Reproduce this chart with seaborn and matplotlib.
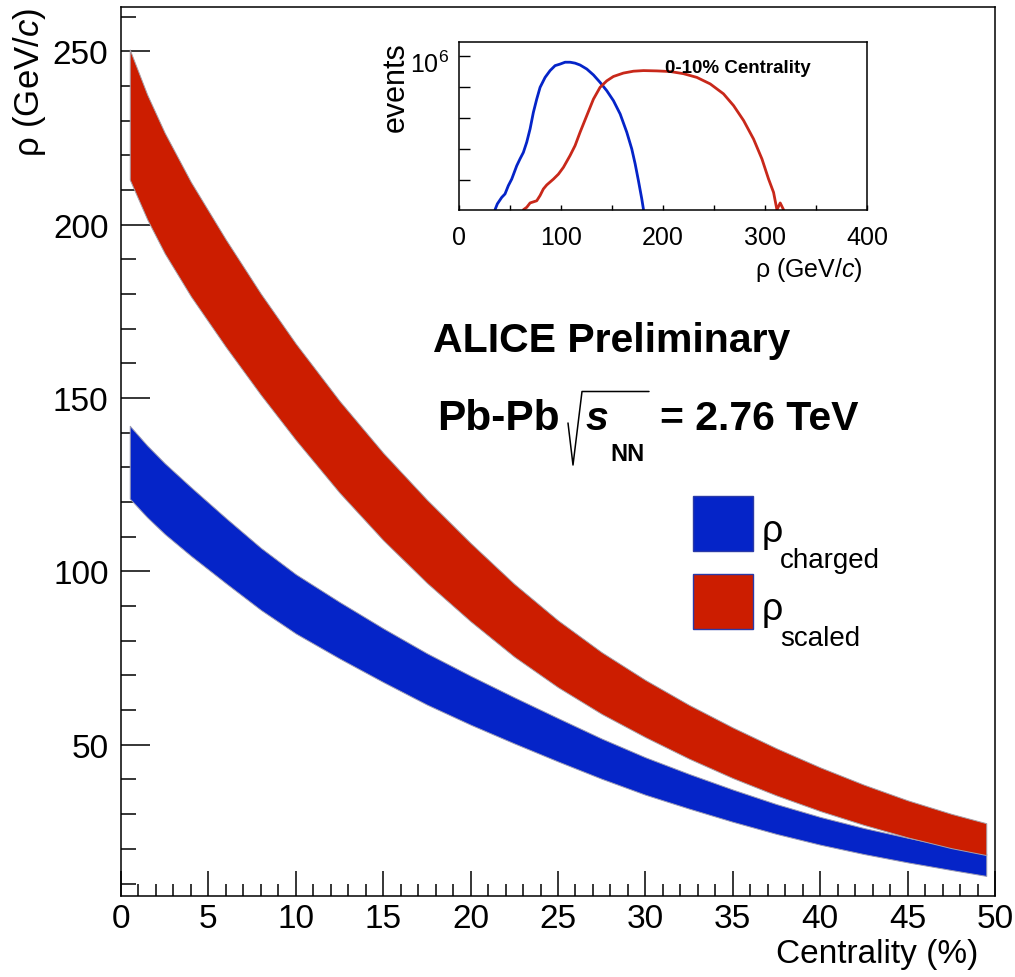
import numpy as np
import matplotlib
matplotlib.use("Agg")
import matplotlib.pyplot as plt
import seaborn as sns
from matplotlib.patches import Rectangle
from matplotlib.lines import Line2D
from matplotlib.transforms import ScaledTranslation
from matplotlib.ticker import MultipleLocator, FixedLocator, FixedFormatter, NullFormatter

# main panel: rho band vs centrality (lower / upper edge of each band)
centrality = [0.5, 1.5, 2.5, 4, 6, 8, 10, 12.5, 15, 17.5, 20, 22.5, 25,
              27.5, 30, 32.5, 35, 37.5, 40, 42.5, 45, 47.5, 49.5]
charged_low = [121, 115.6, 110.8, 104.5, 96.6, 88.9, 82.1, 74.9, 68.1, 61.6, 55.8, 50.4,
               45.2, 40.2, 35.6, 31.6, 27.8, 24.3, 21.2, 18.5, 16.1, 13.9, 12.2]
charged_high = [142, 136.3, 131.2, 124.3, 115.4, 106.8, 99.2, 91.2, 83.6, 76.4, 69.9, 63.7,
                57.7, 51.8, 46.4, 41.6, 37.1, 32.9, 29.2, 26.0, 23.2, 20.6, 18.6]
scaled_low = [213, 201.5, 191.7, 179.3, 164.7, 150.9, 137.9, 122.7, 109, 96.7, 85.6, 75.4,
              66.6, 58.9, 52.2, 46.0, 40.4, 35.4, 30.9, 26.9, 23.3, 20.2, 18.2]
scaled_high = [250.5, 237.5, 226.5, 212.3, 195.7, 180.1, 165.7, 149.2, 134.2, 120.7, 108.2,
               96.4, 85.9, 76.7, 68.7, 61.5, 55.0, 49.0, 43.5, 38.5, 34.0, 30.1, 27.4]

# inset: rho distributions for 0-10% centrality (log10 of events)
rho_charged = [35.3, 37.6, 41.9, 45.1, 48.4, 51.7, 56.6, 59.8, 63.1, 66.4, 69.7, 72.9,
               76.2, 79.5, 84.4, 89.3, 94.2, 99.1, 104.0, 108.9, 113.8, 118.7, 125.3,
               131.8, 138.3, 144.9, 151.4, 158.0, 164.5, 169.4, 172.7, 175.9, 179.2, 180.9]
logev_charged = [1.03, 1.22, 1.43, 1.54, 1.81, 2.02, 2.45, 2.67, 2.88, 3.21, 3.64, 4.17,
                 4.60, 4.98, 5.30, 5.52, 5.68, 5.73, 5.79, 5.79, 5.76, 5.70, 5.57,
                 5.38, 5.14, 4.87, 4.55, 4.12, 3.53, 2.99, 2.51, 1.97, 1.38, 1.03]
rho_scaled = [63.1, 66.4, 69.7, 76.2, 79.5, 82.7, 86.0, 92.6, 97.5, 102.4, 108.9, 113.8,
              118.7, 125.3, 131.8, 138.3, 144.9, 151.4, 161.2, 171.0, 180.9, 193.9,
              207.0, 220.1, 233.2, 246.3, 259.3, 269.2, 279.0, 288.8, 297.0, 303.5,
              308.4, 311.7, 314.9, 318.2]
logev_scaled = [1.03, 1.11, 1.25, 1.32, 1.49, 1.70, 1.83, 2.02, 2.18, 2.40, 2.78, 3.10,
                3.53, 4.07, 4.60, 4.98, 5.19, 5.33, 5.44, 5.50, 5.52, 5.51,
                5.49, 5.42, 5.30, 5.09, 4.77, 4.39, 3.91, 3.31, 2.67, 2.02,
                1.59, 1.03, 1.25, 1.03]

legend_labels = ['charged', 'scaled']

BLUE = '#0524c8'
RED = '#cc1d00'

sns.set_theme(style='white')
plt.rcParams['font.family'] = ['Liberation Sans', 'DejaVu Sans']
plt.rcParams['mathtext.fontset'] = 'custom'
plt.rcParams['mathtext.rm'] = 'Liberation Sans'
plt.rcParams['mathtext.it'] = 'Liberation Sans:italic'
plt.rcParams['axes.edgecolor'] = 'black'
plt.rcParams['text.color'] = 'black'
plt.rcParams['xtick.color'] = 'black'
plt.rcParams['ytick.color'] = 'black'

W, H = 1015, 978
fig = plt.figure(figsize=(W / 100, H / 100), dpi=100)


def fx(px):
    return px / W


def fy(py):
    return 1 - py / H


ax = fig.add_axes([fx(121), fy(897), 874 / W, 889.5 / H])
ax.fill_between(centrality, charged_low, charged_high, facecolor=BLUE,
                edgecolor='#9a9ab4', linewidth=0.7)
ax.fill_between(centrality, scaled_low, scaled_high, facecolor=RED,
                edgecolor='#a8a0a8', linewidth=0.7)
ax.set_xlim(0, 50)
ax.set_ylim(6.4, 262.9)
ax.xaxis.set_major_locator(MultipleLocator(5))
ax.xaxis.set_minor_locator(MultipleLocator(1))
ax.yaxis.set_major_locator(FixedLocator([50, 100, 150, 200, 250]))
ax.yaxis.set_minor_locator(MultipleLocator(10))
ax.tick_params(axis='x', which='major', direction='in', length=18, width=1.1,
               labelsize=24, pad=5, bottom=True, top=False)
ax.tick_params(axis='x', which='minor', direction='in', length=9, width=1.1,
               bottom=True, top=False)
ax.tick_params(axis='y', which='major', direction='in', length=21, width=1.1,
               labelsize=24, pad=9, left=True, right=False)
ax.tick_params(axis='y', which='minor', direction='in', length=11, width=1.1,
               left=True, right=False)
for sp in ax.spines.values():
    sp.set_linewidth(1.1)
    sp.set_color('black')

fig.text(fx(29), fy(8), 'ρ (GeV/$c$)', rotation=90, ha='center', va='top', fontsize=25)
fig.text(fx(978), fy(939), 'Centrality (%)', ha='right', va='top', fontsize=24)

# labels
fig.text(fx(433), fy(352), 'ALICE Preliminary', fontweight='bold', fontsize=29.5,
         va='baseline')
fig.text(fx(437), fy(430), 'Pb-Pb', fontweight='bold', fontsize=30.5, va='baseline')
fig.add_artist(Line2D([fx(568), fx(573), fx(582), fx(649)],
                      [fy(424), fy(466), fy(392.5), fy(392.5)],
                      transform=fig.transFigure, color='black', linewidth=1.1))
fig.text(fx(586), fy(430), 's', fontweight='bold', fontstyle='italic', fontsize=29.5,
         va='baseline')
fig.text(fx(610), fy(461.5), 'NN', fontweight='bold', fontsize=17, va='baseline')
fig.text(fx(660), fy(430), '= 2.76 TeV', fontweight='bold', fontsize=29.5, va='baseline')

# legend
for i, (lab, col) in enumerate(zip(legend_labels, [BLUE, RED])):
    dy = 78.3 * i
    fig.add_artist(Rectangle((fx(692.7), fy(551.7 + dy)), 60 / W, 55 / H,
                             transform=fig.transFigure, facecolor=col,
                             edgecolor='#2a3aa8', linewidth=1))
    fig.text(fx(762), fy(542 + dy), 'ρ', fontsize=27, va='baseline')
    fig.text(fx(780), fy(568 + dy), lab, fontsize=20, va='baseline')

# inset
axin = fig.add_axes([fx(459), fy(210.7), 408 / W, 168 / H])
sns.lineplot(x=rho_charged, y=10 ** np.array(logev_charged), color=BLUE,
             linewidth=2, ax=axin)
sns.lineplot(x=rho_scaled, y=10 ** np.array(logev_scaled), color='#c8281a',
             linewidth=2, ax=axin)
axin.set_yscale('log')
axin.set_xlim(0, 400)
axin.set_ylim(10 ** 1.032, 10 ** 6.452)
axin.xaxis.set_major_locator(MultipleLocator(100))
axin.xaxis.set_minor_locator(MultipleLocator(50))
axin.yaxis.set_major_locator(FixedLocator([1e6]))
axin.yaxis.set_major_formatter(FixedFormatter([r'$10^{6}$']))
axin.yaxis.set_minor_locator(FixedLocator([1e2, 1e3, 1e4, 1e5]))
axin.yaxis.set_minor_formatter(NullFormatter())
axin.tick_params(axis='x', which='both', direction='in', length=3.5, width=1,
                 labelsize=18, pad=11, top=False, bottom=True)
axin.tick_params(axis='y', which='both', direction='in', length=8, width=1,
                 labelsize=18, pad=7, left=True, right=False)
for lab in axin.get_yticklabels():
    lab.set_transform(lab.get_transform() + ScaledTranslation(0, -4 / 72, fig.dpi_scale_trans))
for sp in axin.spines.values():
    sp.set_linewidth(1.1)
    sp.set_color('black')
axin.set_xlabel('')
axin.set_ylabel('')

fig.text(fx(396), fy(42), 'events', rotation=90, ha='center', va='top', fontsize=22)
fig.text(fx(863), fy(276.7), 'ρ (GeV/$c$)', ha='right', va='baseline', fontsize=18)
fig.text(fx(665), fy(72.7), '0-10% Centrality', fontweight='bold', fontsize=13.5,
         va='baseline')

fig.savefig('out.png', dpi=100)
